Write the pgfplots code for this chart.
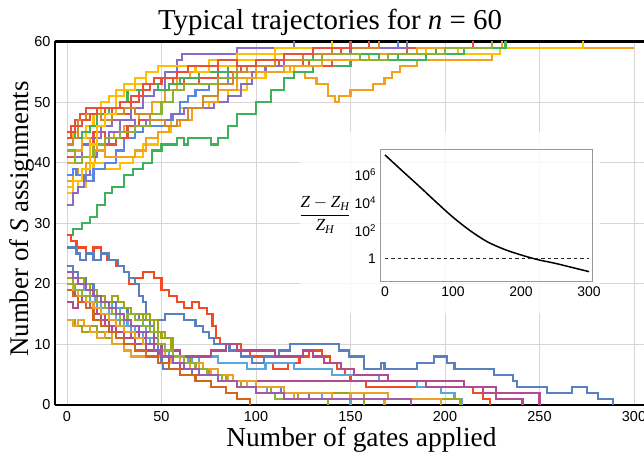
\documentclass[border=0pt]{standalone}
\usepackage{amsmath}
\usepackage{fontspec}
\setmainfont{Liberation Serif}
\setsansfont{Liberation Sans}
\usepackage{pgfplots}
\pgfplotsset{compat=1.18}
\definecolor{uRed}{HTML}{E8503A}
\definecolor{uOrange}{HTML}{F5A01A}
\definecolor{uYellow}{HTML}{FFBF00}
\definecolor{uGreen}{HTML}{3DB25A}
\definecolor{uPurple}{HTML}{8A6CC4}
\definecolor{uBlue}{HTML}{5A87E6}
\definecolor{uOlive}{HTML}{90B030}
\definecolor{uBrown}{HTML}{D08A2A}
\definecolor{lRed}{HTML}{F24A22}
\definecolor{lBlue}{HTML}{5B80C0}
\definecolor{lLBlue}{HTML}{5AA7DB}
\definecolor{lOlive}{HTML}{9EA616}
\definecolor{lPink}{HTML}{B24C8E}
\definecolor{lOrange}{HTML}{EBA12A}
\definecolor{lDOrange}{HTML}{D4661C}
\definecolor{lGreen}{HTML}{8DB235}
\definecolor{lPurple}{HTML}{A05BA8}
\begin{document}
\begin{tikzpicture}[x=1bp,y=1bp]
\begin{axis}[name=main, at={(0bp,0bp)}, anchor=south west, scale only axis,
  width=589bp, height=363.5bp,
  xmin=-6.35, xmax=305.3, ymin=0, ymax=60,
  axis x line=box, axis y line=left,
  axis line style={line width=2.5bp,-},
  every outer y axis line/.append style={-},
  every outer x axis line/.append style={-},
  major tick length=0pt,
  xtick={0,50,...,300}, ytick={0,10,...,60},
  grid=major, grid style={draw=black!16, line width=0.8bp},
  /pgf/number format/assume math mode=true,
  ticklabel style={font=\fontsize{14.5}{16}\sffamily},
  xticklabel style={yshift=-3bp},
  yticklabel style={xshift=-1bp},
  every axis plot/.append style={const plot, line width=2.1bp, mark=none},
]
% ---------------- upper trajectories ----------------
\addplot[uRed] coordinates {(0,44)(2,46)(4,47)(7,48)(10,49)(20,48)(24,49)(30,48)(34,50)(38,52)(44,53)(50,54)(56,53)(62,54)(70,55)(80,56)(92,55)(100,56)(112,57)(125,56)(135,58)(145,59)(160,60)};
\addplot[uOrange] coordinates {(0,37)(3,39)(6,38)(10,40)(15,42)(20,44)(25,45)(30,46)(38,48)(45,50)(52,52)(58,54)(65,55)(75,56)(90,55)(100,56)(118,55)(126,54)(132,53)(138,51)(142,50)(144,51)(150,52)(162,53)(168,54)(172,55)(176,56)(185,57)(225,58)(229,59)(300,59)};
\addplot[uYellow] coordinates {(0,35)(3,37)(6,36)(10,38)(14,40)(20,39)(28,40)(35,41)(40,43)(48,45)(55,48)(60,49)(70,49)(75,50)(85,52)(95,54)(105,55)(120,56)(140,57)(160,58)(190,59)(207,58)(229,59)(273,60)};
\addplot[uGreen] coordinates {(0,28)(3,29)(8,30)(12,31)(16,33)(20,35)(24,36)(30,38)(35,39)(40,40)(45,42)(50,43)(58,44)(62,43)(64,44)(76,43)(80,44)(85,46)(90,48)(100,50)(108,52)(115,54)(120,55)(130,56)(150,57)(175,58)(195,59)(215,60)};
\addplot[uPurple] coordinates {(0,33)(3,35)(6,36)(9,38)(12,41)(16,43)(22,45)(28,47)(34,49)(40,51)(46,52)(52,55)(58,57)(61,58)(90,59)(120,60)};
\addplot[uBlue] coordinates {(0,38)(3,39)(5,38)(10,37)(14,39)(20,40)(26,42)(30,44)(36,45)(40,46)(48,46)(52,47)(56,48)(60,50)(64,51)(68,52)(75,53)(85,55)(95,56)(110,57)(125,58)(140,59)(175,60)};
\addplot[uRed] coordinates {(0,41)(4,42)(8,43)(14,45)(20,43)(26,44)(32,46)(38,47)(44,48)(50,50)(56,52)(62,53)(70,54)(80,55)(95,56)(110,57)(128,56)(140,57)(160,58)(180,59)(215,60)};
\addplot[uPurple] coordinates {(0,42)(4,41)(8,43)(12,44)(18,46)(24,47)(30,47)(36,46)(42,47)(48,47)(55,48)(62,49)(72,49)(78,50)(85,51)(92,53)(98,55)(105,56)(115,57)(130,58)(150,59)(180,60)};
\addplot[uOrange] coordinates {(0,40)(4,42)(8,44)(12,43)(16,42)(20,41)(28,41)(36,42)(42,44)(48,45)(54,46)(60,47)(66,49)(72,50)(80,52)(90,54)(100,55)(115,56)(135,57)(160,58)(185,59)(230,60)};
\addplot[uYellow] coordinates {(0,43)(3,45)(6,44)(10,46)(14,48)(18,50)(22,51)(26,52)(30,53)(36,54)(42,55)(48,56)(60,56)(75,57)(90,58)(110,59)(140,60)};
\addplot[uGreen] coordinates {(0,45)(4,44)(8,45)(12,46)(16,48)(22,49)(28,50)(32,52)(40,53)(48,52)(54,53)(60,54)(70,55)(85,56)(100,57)(130,58)(165,57)(190,58)(210,59)(232,60)};
\addplot[uOlive] coordinates {(0,42)(4,40)(8,41)(14,43)(20,44)(28,45)(36,46)(44,48)(50,50)(56,52)(62,53)(70,53)(80,54)(90,56)(110,57)(135,58)(155,57)(170,58)(200,59)(225,60)};
\addplot[uBrown] coordinates {(0,43)(3,44)(6,47)(10,48)(14,48)(18,47)(24,48)(30,49)(36,48)(44,47)(52,46)(58,47)(64,49)(72,51)(80,53)(88,55)(95,56)(110,57)(125,58)(140,59)(165,60)};
\addplot[uYellow] coordinates {(0,36)(3,37)(8,39)(12,43)(16,46)(20,48)(26,51)(30,52)(36,53)(42,55)(48,56)(60,56)(68,55)(75,56)(90,57)(110,58)(130,59)(150,60)};
\addplot[uRed] coordinates {(0,45)(4,46)(8,47)(12,48)(16,49)(22,49)(28,50)(34,51)(40,53)(46,54)(52,54)(58,55)(64,56)(72,56)(80,57)(90,56)(100,57)(115,58)(130,59)(150,60)};
% ---------------- lower trajectories ----------------
\addplot[lRed] coordinates {(0,28)(2,27)(5,26)(10,25)(14,26)(18,25)(21,24)(26,23)(30,22)(33,20)(36,21)(40,22)(46,21)(50,19)(54,18)(58,17)(62,16)(66,17)(70,16)(74,15)(77,13)(79,11)(81,10)(92,9)(97,8)(104,7)(109,6)(117,7)(123,8)(128,9)(135,8)(139,7)(143,6)(147,5)(150,4)(158,3)(200,3)(215,2)(220,1)(224,0)};
\addplot[lBlue] coordinates {(0,26)(5,25)(7,24)(10,25)(14,24)(18,25)(22,24)(27,23)(30,22)(33,21)(36,20)(38,18)(40,17)(42,15)(44,13)(46,11)(48,9)(49,8)(50,7)(51,6)(64,6)(66,5)(75,5)(80,4)(90,4)(95,3)(110,3)(113,2)(125,2)(128,1)(135,1)(138,0)};
\addplot[lBlue] coordinates {(0,23)(3,22)(6,21)(10,20)(14,19)(16,18)(20,17)(26,16)(32,15)(38,14)(46,14)(52,15)(58,15)(62,14)(68,13)(72,12)(75,11)(78,10)(86,9)(92,8)(98,7)(104,8)(112,9)(118,10)(134,10)(144,9)(149,8)(157,6)(166,7)(168,6)(185,7)(194,8)(201,7)(205,6)(226,5)(236,4)(238,3)(254,2)(267,3)(275,2)(281,1)(289,0)};
\addplot[lLBlue] coordinates {(0,21)(3,20)(6,21)(9,19)(12,18)(15,17)(18,16)(22,15)(26,14)(30,13)(34,12)(38,13)(42,11)(46,10)(50,9)(54,8)(62,8)(66,7)(70,8)(80,7)(90,7)(95,6)(105,7)(115,7)(120,6)(130,6)(140,5)(160,5)(165,4)(180,4)(185,3)(195,3)(198,2)(205,1)(209,0)};
\addplot[lLBlue] coordinates {(0,20)(4,19)(8,18)(12,17)(16,16)(20,17)(24,16)(28,14)(32,13)(36,12)(40,11)(44,10)(50,9)(56,8)(64,7)(70,6)(74,5)(82,4)(90,3)(100,3)(106,2)(130,2)(135,1)(145,1)(150,0)};
\addplot[lOlive] coordinates {(0,21)(3,20)(6,21)(9,20)(12,19)(16,18)(20,17)(24,18)(27,17)(30,16)(34,15)(38,15)(42,14)(46,12)(50,11)(55,9)(60,8)(65,7)(70,6)(75,5)(80,4)(90,4)(95,3)(110,3)(115,2)(155,2)(157,0)};
\addplot[lOlive] coordinates {(0,14)(4,13)(8,12)(12,13)(16,12)(20,11)(24,13)(28,14)(32,15)(36,14)(40,15)(44,14)(48,12)(52,11)(56,9)(60,8)(65,7)(70,6)(76,5)(84,4)(92,3)(100,3)(108,2)(118,2)(122,1)(207,1)(208,0)};
\addplot[lPink] coordinates {(0,17)(3,16)(6,17)(10,16)(14,15)(18,14)(22,13)(26,12)(30,11)(34,12)(38,11)(42,12)(46,10)(50,9)(55,9)(60,8)(70,8)(76,9)(84,10)(90,9)(100,9)(110,8)(125,9)(130,8)(136,7)(145,6)(152,5)(165,5)(170,4)(200,4)(210,3)(220,2)(250,0)};
\addplot[lPink] coordinates {(0,19)(4,18)(8,17)(12,16)(16,15)(20,13)(24,12)(30,11)(36,10)(42,9)(48,8)(54,7)(60,6)(70,5)(80,4)(187,4)(190,3)(225,3)(227,1)(240,1)(241,0)};
\addplot[lOrange] coordinates {(0,14)(3,13)(6,14)(9,13)(12,12)(16,11)(20,12)(24,10)(30,9)(34,8)(50,8)(55,7)(65,6)(70,7)(72,6)(76,5)(85,4)(95,3)(100,2)(110,2)(120,1)(140,1)(150,2)(160,2)(170,1)(195,1)(198,0)};
\addplot[lDOrange] coordinates {(0,19)(3,18)(6,17)(10,16)(14,14)(18,13)(22,12)(26,11)(30,10)(36,9)(42,8)(48,7)(54,6)(60,5)(68,4)(76,3)(84,2)(90,1)(97,0)};
\addplot[lOrange] coordinates {(0,20)(3,19)(6,18)(10,17)(14,16)(18,15)(22,14)(26,13)(30,12)(36,11)(40,10)(46,9)(52,8)(60,7)(70,6)(80,5)(88,4)(100,3)(115,2)(130,2)(140,1)(165,1)(168,0)};
\addplot[lGreen] coordinates {(0,20)(4,19)(8,18)(12,19)(16,17)(20,16)(24,15)(28,14)(32,15)(36,14)(40,13)(44,12)(48,10)(52,9)(56,8)(62,7)(68,6)(74,5)(82,4)(90,3)(100,2)(110,1)(130,1)(138,0)};
\addplot[lPurple] coordinates {(0,22)(3,21)(6,20)(10,19)(14,18)(18,17)(22,16)(26,15)(30,14)(34,13)(38,12)(42,10)(46,9)(50,8)(56,7)(62,6)(70,5)(80,4)(90,3)(100,2)(115,1)(180,1)(182,0)};
\fill[white, opacity=0.82] (axis cs:123.3,15.2) rectangle (axis cs:282,45);
\end{axis}
\begin{axis}[name=inset, at={(325.5bp,124bp)}, anchor=south west, scale only axis,
  width=212bp, height=132bp,
  xmin=-6.6, xmax=305, ymode=log,
  ymin=0.0234, ymax=7.2e7,
  axis line style={draw=black!40, line width=0.8bp},
  major tick length=0pt, minor tick length=0pt,
  xtick={0,100,200,300},
  ytick={1,100,10000,1000000},
  yticklabels={1,10\textsuperscript{2},10\textsuperscript{4},10\textsuperscript{6}},
  /pgf/number format/assume math mode=true,
  ticklabel style={font=\fontsize{14}{16}\sffamily},
  xticklabel style={yshift=-2bp},
  yticklabel style={xshift=-1bp},
]
\addplot[black, line width=1.5bp, smooth, mark=none] coordinates {(0,2.69e7)(25,2.0e6)(50,1.55e5)(75,1.12e4)(100,891)(125,98)(150,15.8)(175,4.47)(200,1.74)(225,0.79)(250,0.437)(275,0.219)(300,0.11)};
\addplot[black!85, line width=1.2bp, dash pattern=on 3.5bp off 3bp, mark=none] coordinates {(0,1)(300,1)};
\end{axis}
\node[font=\fontsize{29}{31}\selectfont, anchor=base] at (275,375) {Typical trajectories for \textit{n} = 60};
\node[font=\fontsize{27.5}{30}\selectfont, anchor=base] at (306.5,-42) {Number of gates applied};
\node[font=\fontsize{27}{30}\selectfont, anchor=base, rotate=90] at (-26,186) {Number of \textit{S} assignments};
\node[font=\fontsize{17}{20}\selectfont] at (270,190) {$\dfrac{\textit{Z}-\textit{Z}_{\textit{H}}}{\textit{Z}_{\textit{H}}}$};
\pgfresetboundingbox
\path[use as bounding box] (-55,-57) rectangle (589,405);
\end{tikzpicture}
\end{document}
